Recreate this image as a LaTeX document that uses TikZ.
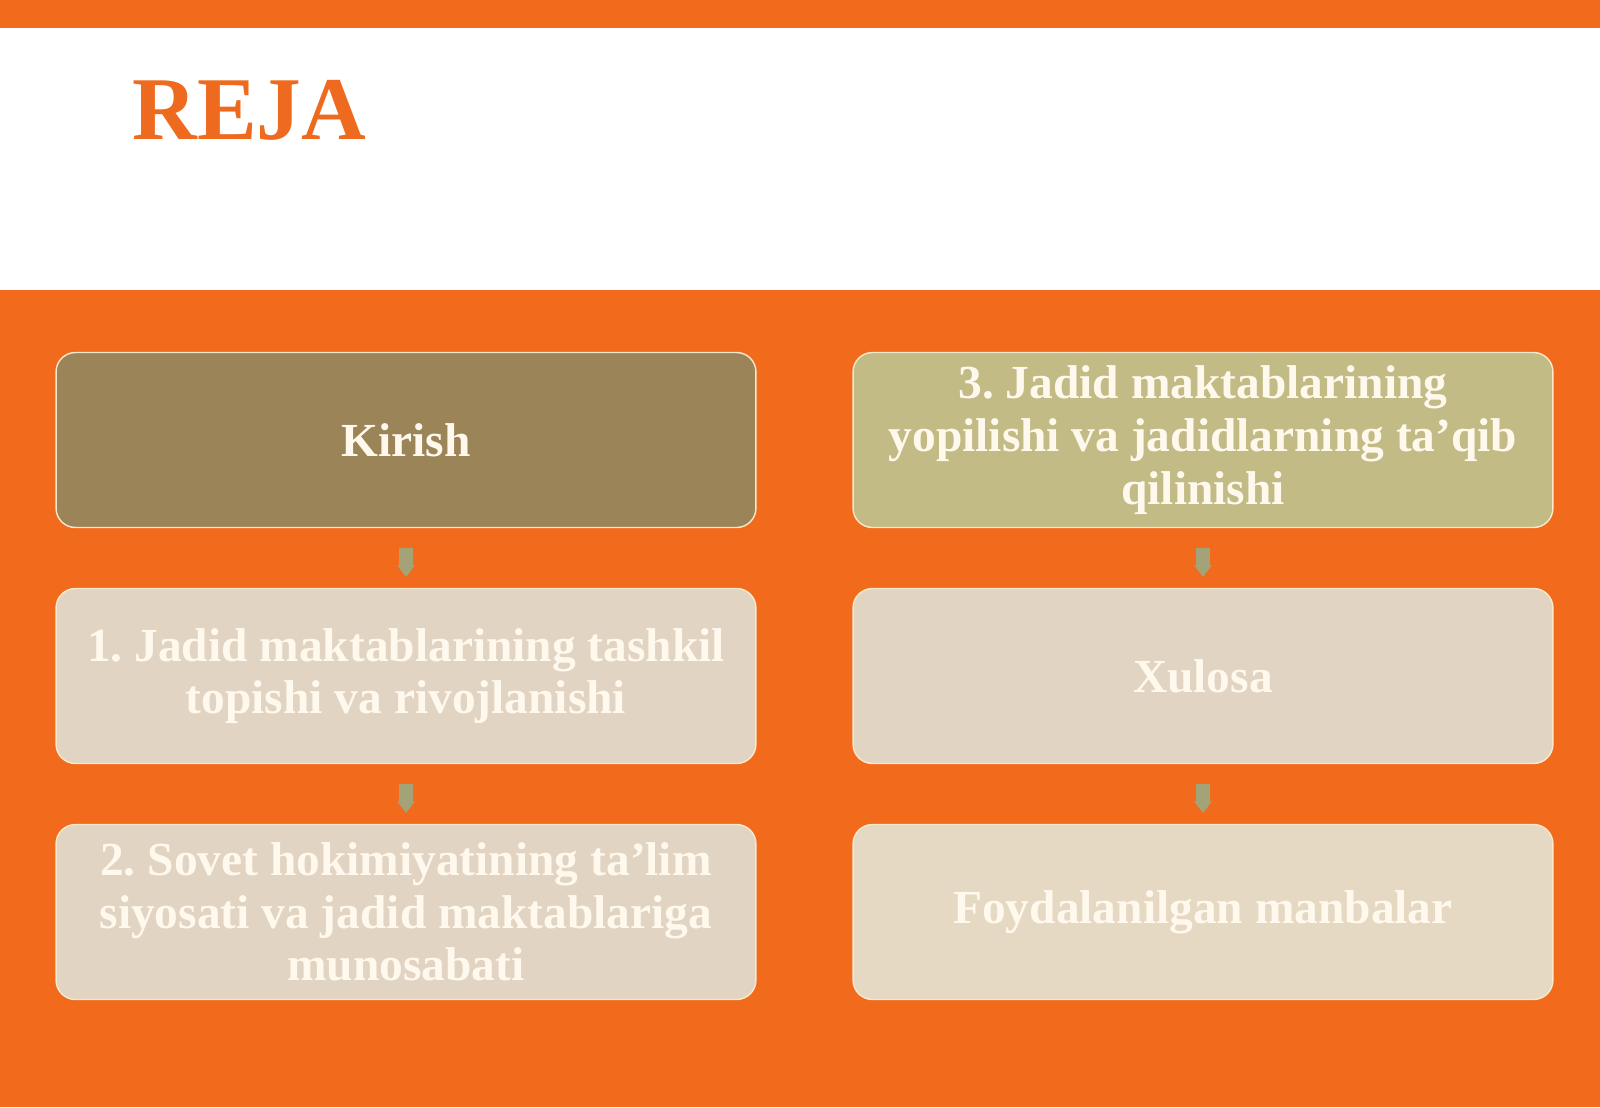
\documentclass[tikz,border=0pt]{standalone}
\usepackage{fontspec}
\setmainfont{Liberation Serif}
\usetikzlibrary{shapes.arrows,calc}
\definecolor{bgorange}{HTML}{F26A1B}
\definecolor{titleorange}{HTML}{EE6A1E}
\definecolor{kirishbrown}{HTML}{9C8459}
\definecolor{khaki}{HTML}{C2BB85}
\definecolor{beige}{HTML}{E2D4C3}
\definecolor{beigetwo}{HTML}{E6D9C4}
\definecolor{rimcream}{HTML}{F8E9CC}
\definecolor{textcream}{HTML}{FFF8EC}
\definecolor{arrowgreen}{HTML}{A4A277}

\begin{document}
\begin{tikzpicture}[x=0.02cm, y=-0.02cm, %
      box/.style={draw=rimcream, line width=0.8pt, rounded corners=11pt, %
        minimum width=14cm, minimum height=3.5cm, text width=13.6cm, align=flush center, %
        font=\fontsize{27}{30}\selectfont\bfseries\frenchspacing, text=textcream, inner sep=0pt}, %
      downarr/.style={single arrow, fill=arrowgreen, shape border rotate=270, %
        inner sep=0.13cm, single arrow head extend=0.04cm, single arrow tip angle=75, %
        minimum height=0.58cm, draw=none}, %
      ]

    % background and title band
    \useasboundingbox (0,0) rectangle (1600,1107);
    \fill[bgorange] (0,0) rectangle (1600,1107);
    \fill[white] (0,28) rectangle (1600,290);
    \node[anchor=base west, inner sep=0pt, text=titleorange, %
      font=\fontsize{51}{56}\selectfont\bfseries] (title) at (132,139) {REJA};

    % plan boxes
    \foreach \a/\col/\x/\y/\lab in { %
      kirish/kirishbrown/406/440/{Kirish},%
      tashkil/beige/406/676/{1. Jadid maktablarining tashkil\\topishi va rivojlanishi},%
      sovet/beige/406/912/{2. Sovet hokimiyatining ta’lim\\siyosati va jadid maktablariga\\munosabati},%
      yopil/khaki/1203/440/{3. Jadid maktablarining\\yopilishi va jadidlarning ta’qib\\qilinishi},%
      xulosa/beige/1203/676/{Xulosa},%
      manba/beigetwo/1203/912/{Foydalanilgan manbalar}%
    }{ %
      \node[box, fill=\col] (\a) at (\x,\y) {\lab};
    }

    % small arrows between the boxes
    \foreach \from/\to in {kirish/tashkil, tashkil/sovet, yopil/xulosa, xulosa/manba}{ %
      \node[downarr] (\from-\to) at ($(\from.south)!0.5!(\to.north)$) {};
    }
\end{tikzpicture}
\end{document}
